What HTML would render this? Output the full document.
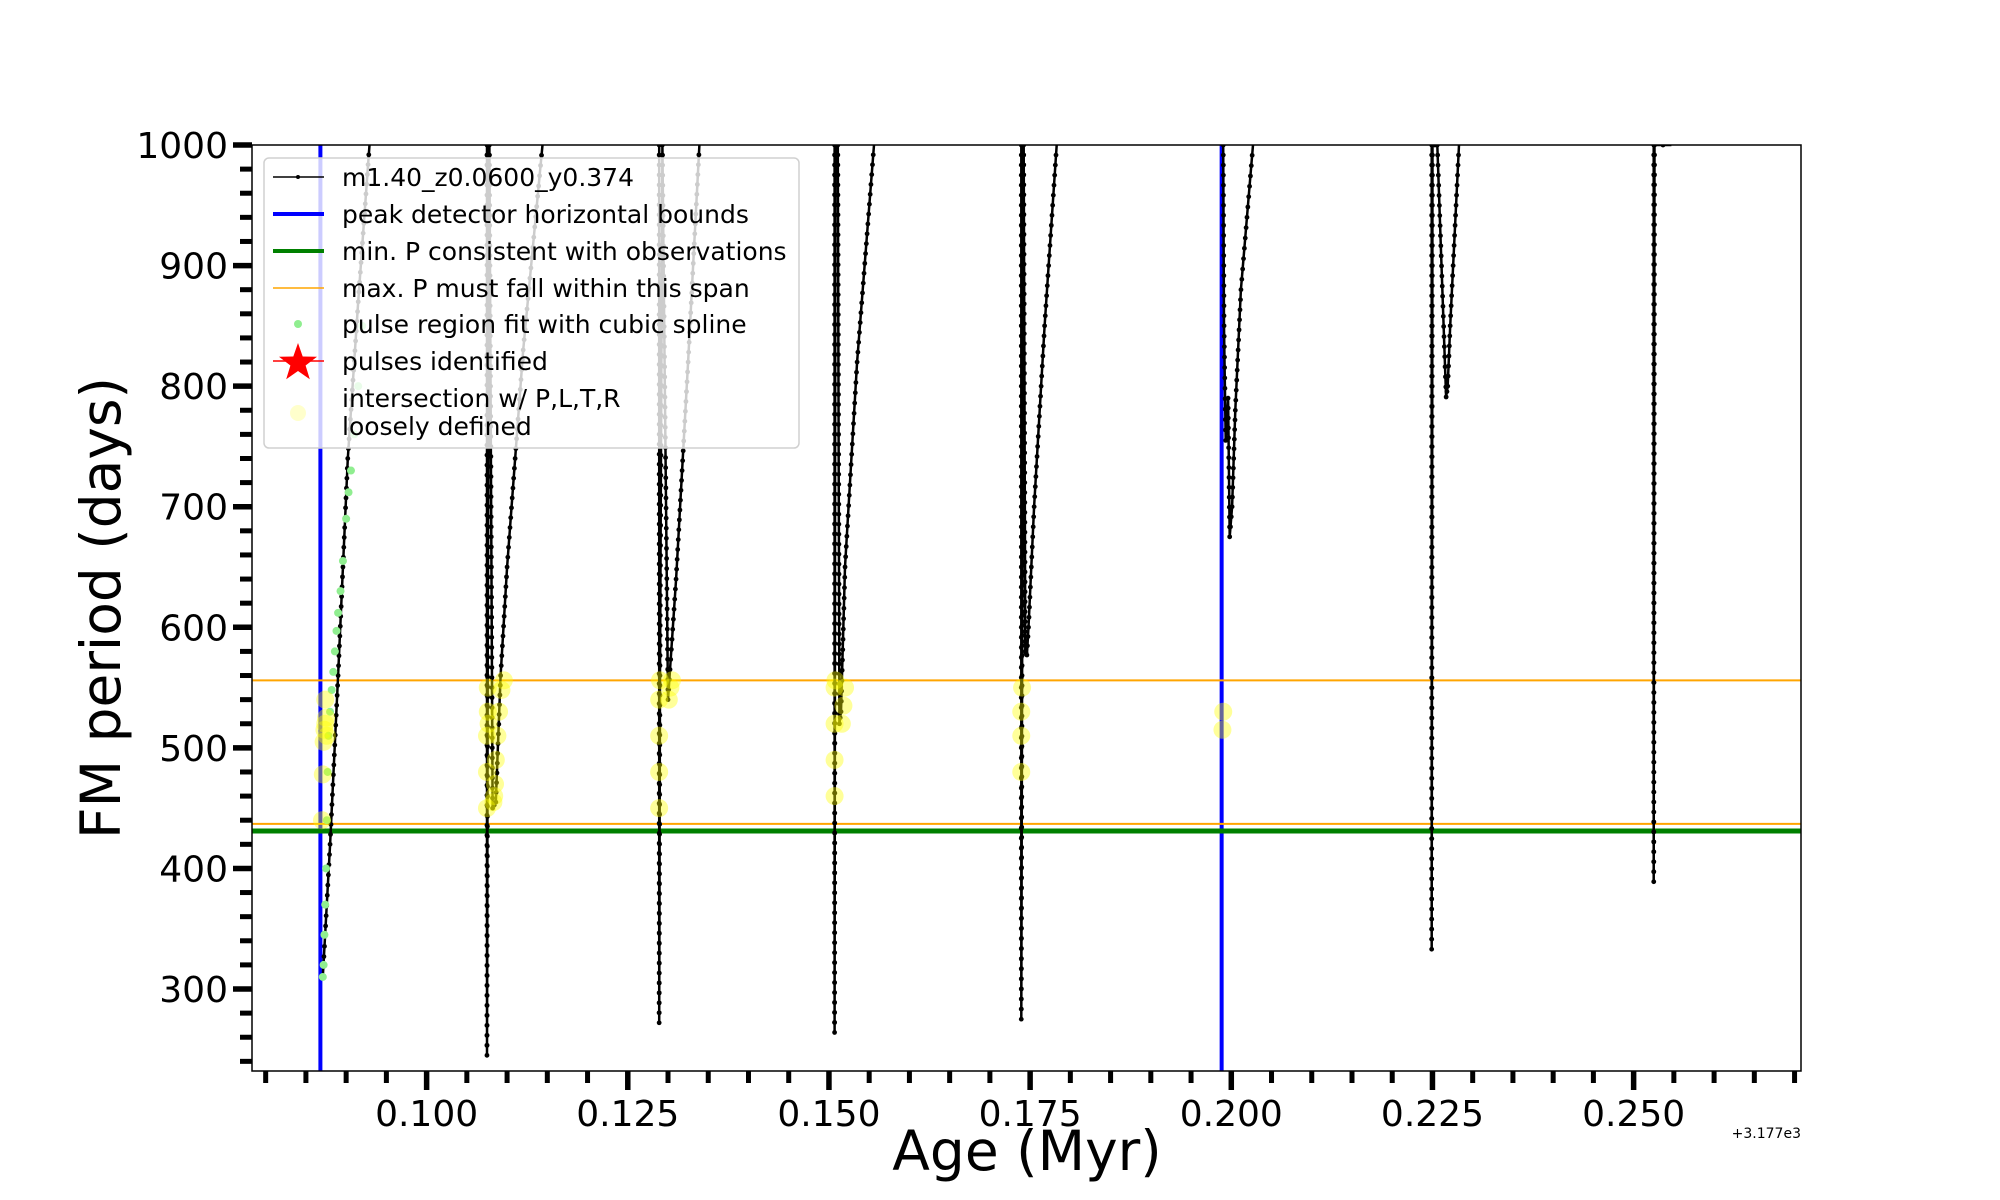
<!DOCTYPE html>
<html><head><meta charset="utf-8"><style>
html,body{margin:0;padding:0;background:#fff}
svg{display:block;font-family:"DejaVu Sans","Liberation Sans",sans-serif}
</style></head><body>
<svg id="chart" width="2000" height="1200" viewBox="0 0 2000 1200"></svg>
<script>
const xTicks=[0.100,0.125,0.150,0.175,0.200,0.225,0.250];
const xTickLabels=["0.100","0.125","0.150","0.175","0.200","0.225","0.250"];
const yTicks=[300,400,500,600,700,800,900,1000];
// black model track, one array pair per pulse
const pulseAges=[
 [0.0871,0.0880,0.0890,0.0902,0.0915,0.0929],
 [0.1075,0.1075,0.1076,0.1078,0.1082,0.1086,0.1092,0.1100,0.1120,0.1144],
 [0.1289,0.1289,0.1290,0.1293,0.1300,0.1310,0.1325,0.1339],
 [0.1507,0.1507,0.1508,0.1511,0.1513,0.1515,0.1520,0.1535,0.1556],
 [0.1739,0.1739,0.1740,0.1742,0.1744,0.1746,0.1748,0.1755,0.1768,0.1783],
 [0.1990,0.1991,0.1993,0.1996,0.1998,0.2001,0.2005,0.2012,0.2027],
 [0.2249,0.2249,0.2250,0.2256,0.2267,0.2269,0.2272,0.2283],
 [0.2525,0.2525,0.2526,0.2547]
];
const pulsePeriods=[
 [310,420,560,740,870,1000],
 [1000,245,600,1000,450,455,560,650,830,1000],
 [1000,272,560,1000,540,640,820,1000],
 [1000,264,1000,1000,520,530,650,820,1000],
 [1000,275,560,1000,580,577,600,700,850,1000],
 [1000,850,755,790,675,700,780,880,1000],
 [1000,333,1000,1000,791,800,850,1000],
 [1000,389,1000,1000]
];
const greenAges=[0.0871,0.0872,0.0873,0.0874,0.0875,0.0876,0.0877,0.0878,0.0880,0.0882,0.0884,0.0886,0.0888,0.0890,0.0893,0.0896,0.0900,0.0903,0.0906,0.0910,0.0915,0.0920];
const greenPeriods=[310,320,345,370,400,440,480,510,530,548,563,580,597,612,630,655,690,712,730,760,800,850];
const yellowAges=[0.0870,0.0871,0.0872,0.0873,0.0874,0.0875,0.0876,0.0874,0.1075,0.1075,0.1075,0.1076,0.1076,0.1077,0.1083,0.1084,0.1085,0.1086,0.1088,0.1090,0.1093,0.1096,0.1289,0.1289,0.1289,0.1289,0.1290,0.1301,0.1303,0.1305,0.1507,0.1507,0.1507,0.1507,0.1508,0.1516,0.1518,0.1520,0.1739,0.1739,0.1739,0.1740,0.1989,0.1990];
const yellowPeriods=[440,478,505,515,520,525,510,540,450,480,510,530,550,520,455,460,470,490,510,530,548,556,450,480,510,540,556,540,550,556,460,490,520,550,556,520,535,550,480,510,530,550,515,530];
const bluePosX=[0.0868,0.1988];
const orangeP=[556,437];
const greenLineP=[431];

const X0=252,X1=1801,Y0=145,Y1=1071,XMIN=0.0783,XMAX=0.2708,YMIN=232,YMAX=1000;
const sx=a=>X0+(a-XMIN)/(XMAX-XMIN)*(X1-X0);
const sy=p=>Y1-(p-YMIN)/(YMAX-YMIN)*(Y1-Y0);
const NS="http://www.w3.org/2000/svg";
const svg=document.getElementById('chart');
function mk(tag,attrs,parent){const e=document.createElementNS(NS,tag);for(const k in attrs)e.setAttribute(k,attrs[k]);(parent||svg).appendChild(e);return e;}

const defs=mk('defs',{});const cp=mk('clipPath',{id:'clip'},defs);mk('rect',{x:X0,y:Y0,width:X1-X0,height:Y1-Y0},cp);
const plot=mk('g',{'clip-path':'url(#clip)'});



bluePosX.forEach((a,i)=>{const l=mk('line',{x1:sx(a),x2:sx(a),y1:Y0,y2:Y1,stroke:'#0000ff','stroke-width':4},plot);

});
greenLineP.forEach(p=>{const l=mk('line',{x1:X0,x2:X1,y1:sy(p),y2:sy(p),stroke:'#008000','stroke-width':5},plot);

});
orangeP.forEach((p,i)=>{const l=mk('line',{x1:X0,x2:X1,y1:sy(p),y2:sy(p),stroke:'#ffa500','stroke-width':2},plot);

});
pulseAges.forEach((ages,i)=>{
 const per=pulsePeriods[i];
 const d=ages.map((a,j)=>(j?'L':'M')+sx(a).toFixed(1)+','+sy(per[j]).toFixed(1)).join(' ');
 const g=mk('g',{},plot);
 
 
 mk('path',{d:d,fill:'none',stroke:'#000','stroke-width':2.5},g);
 for(let j=0;j<ages.length-1;j++){
  const n=Math.max(2,Math.round(Math.abs(sy(per[j+1])-sy(per[j]))/10));
  for(let k=0;k<n;k++){const t=k/n;mk('circle',{cx:sx(ages[j]+(ages[j+1]-ages[j])*t),cy:sy(per[j]+(per[j+1]-per[j])*t),r:2.4,fill:'#000'},g);}
 }
});
greenAges.forEach((a,i)=>{const c=mk('circle',{cx:sx(a),cy:sy(greenPeriods[i]),r:4,fill:'#90ee90'},plot);

});
yellowAges.forEach((a,i)=>{const c=mk('circle',{cx:sx(a),cy:sy(yellowPeriods[i]),r:9,fill:'#ffff00','fill-opacity':0.4},plot);

});

const fr=mk('rect',{x:X0,y:Y0,width:X1-X0,height:Y1-Y0,fill:'none',stroke:'#000','stroke-width':1.5});



for(let v=240;v<=1000;v+=20){const maj=v%100===0;mk('line',{x1:X0,x2:X0-(maj?19:12),y1:sy(v),y2:sy(v),stroke:'#000','stroke-width':maj?5.5:5});}
yTicks.forEach(v=>{const t=mk('text',{x:X0-24,y:sy(v)+13,'text-anchor':'end','font-size':36,fill:'#000'});t.textContent=v;

});
for(let k=0;k<40;k++){const a=0.080+k*0.005;if(a>XMAX)break;const r=(a*1000)%25;const maj=r<0.01||r>24.99;
mk('line',{x1:sx(a),x2:sx(a),y1:Y1,y2:Y1+(maj?19:12),stroke:'#000','stroke-width':maj?5.5:5});}
xTicks.forEach((a,i)=>{const t=mk('text',{x:sx(a),y:Y1+55,'text-anchor':'middle','font-size':36,fill:'#000'});t.textContent=xTickLabels[i];

});
const off=mk('text',{x:X1,y:1138,'text-anchor':'end','font-size':14,fill:'#000'});off.textContent='+3.177e3';


const xl=mk('text',{x:1027,y:1170,'text-anchor':'middle','font-size':55,fill:'#000'});xl.textContent='Age (Myr)';


const yl=mk('text',{x:0,y:0,'text-anchor':'middle','font-size':55,fill:'#000',transform:'translate(120,608) rotate(-90)'});yl.textContent='FM period (days)';



const lg=mk('g',{});


mk('rect',{x:264,y:158,width:535,height:290,rx:5,fill:'#fff','fill-opacity':0.8,stroke:'#d0d0d0','stroke-width':1.5},lg);
const ent=[['m1.40_z0.0600_y0.374',177],['peak detector horizontal bounds',214],['min. P consistent with observations',251],['max. P must fall within this span',288],['pulse region fit with cubic spline',324],['pulses identified',361],['intersection w/ P,L,T,R',398],['loosely defined',426]];
ent.forEach(([s,y])=>{const t=mk('text',{x:342,y:y+9,'font-size':25,fill:'#000'},lg);t.textContent=s;

});
mk('line',{x1:273,x2:324,y1:177,y2:177,stroke:'#000','stroke-width':1.5},lg);mk('circle',{cx:298,cy:177,r:2,fill:'#000'},lg);
mk('line',{x1:273,x2:324,y1:214,y2:214,stroke:'#0000ff','stroke-width':4},lg);
mk('line',{x1:273,x2:324,y1:251,y2:251,stroke:'#008000','stroke-width':4},lg);
mk('line',{x1:273,x2:324,y1:288,y2:288,stroke:'#ffa500','stroke-width':1.5},lg);
mk('circle',{cx:298,cy:324,r:4,fill:'#90ee90'},lg);
mk('line',{x1:273,x2:324,y1:361,y2:361,stroke:'#ff0000','stroke-width':1.5},lg);
mk('polygon',{points:(()=>{let p=[];for(let i=0;i<10;i++){const r=i%2?8:20,an=-Math.PI/2+i*Math.PI/5;p.push((298+r*Math.cos(an)).toFixed(1)+','+(363+r*Math.sin(an)).toFixed(1));}return p.join(' ');})(),fill:'#ff0000'},lg);
mk('circle',{cx:298,cy:413,r:8,fill:'#ffff00','fill-opacity':0.2},lg);
</script>
</body></html>
